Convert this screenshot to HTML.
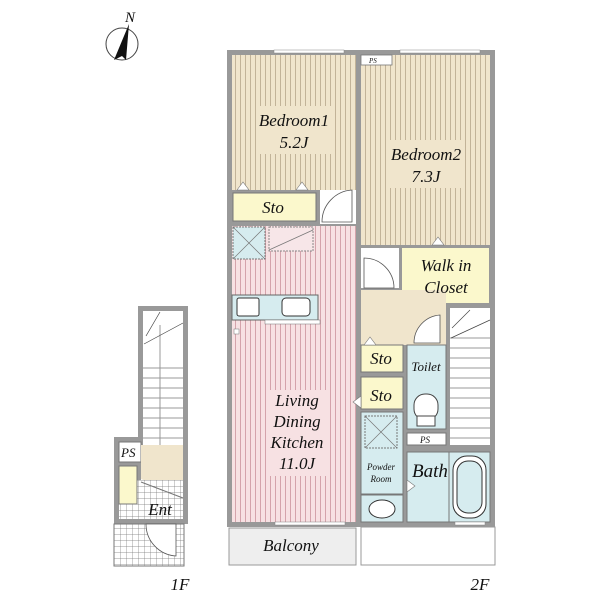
<!DOCTYPE html>
<html><head><style>body{margin:0;background:#fff}svg{display:block}text{font-family:"Liberation Serif",serif;font-style:italic;fill:#111}</style></head><body>
<svg width="600" height="600" viewBox="0 0 600 600" xmlns="http://www.w3.org/2000/svg">
<defs>
<pattern id="bs" width="5" height="10" patternUnits="userSpaceOnUse"><rect width="5" height="10" fill="#f0e5cc"/><rect x="0" width="1" height="10" fill="#c2b398"/></pattern>
<pattern id="ps" width="5" height="10" patternUnits="userSpaceOnUse"><rect width="5" height="10" fill="#f7e1e3"/><rect x="0" width="1" height="10" fill="#d4a3ab"/></pattern>
<pattern id="grid" width="6" height="6" patternUnits="userSpaceOnUse"><rect width="6" height="6" fill="#fff"/><path d="M0 0H6M0 0V6" stroke="#777" stroke-width="0.7"/></pattern>
</defs>
<circle cx="122" cy="44" r="16" fill="#fff" stroke="#444" stroke-width="1"/>
<polygon points="129,24 114,60 122,56 126,60" fill="#111"/>
<text x="125" y="22" font-size="15">N</text>
<rect x="227" y="50" width="268" height="477" fill="#999"/>
<rect x="232" y="55" width="124" height="135" fill="url(#bs)"/>
<rect x="258" y="106" width="76" height="48" fill="#f0e5cc"/>
<rect x="233" y="193" width="83" height="28" fill="#fbf8cc" stroke="#777"/>
<rect x="320" y="190" width="36" height="34" fill="#fff"/>
<path d="M352 190 A32 32 0 0 0 322 222 L352 222 Z" fill="#fff" stroke="#555" stroke-width="0.8"/>
<rect x="361" y="55" width="129" height="190" fill="url(#bs)"/>
<rect x="388" y="140" width="76" height="48" fill="#f0e5cc"/>
<rect x="361" y="55" width="31" height="10" fill="#fff" stroke="#777" stroke-width="0.8"/>
<text x="369" y="63" font-size="7">PS</text>
<rect x="402" y="248" width="87" height="55" fill="#fbf8cc"/>
<rect x="361" y="248" width="38" height="40" fill="#fff"/>
<path d="M364 258 A30 30 0 0 1 394 288 L364 288 Z" fill="#fff" stroke="#555" stroke-width="0.8"/>
<rect x="232" y="226" width="124" height="296" fill="url(#ps)"/>
<rect x="268" y="390" width="58" height="86" fill="#f7e1e3"/>
<rect x="233" y="227" width="32" height="32" fill="#d6ecef" stroke="#777" stroke-dasharray="2,1"/>
<path d="M233 227L265 259M265 227L233 259" stroke="#777" stroke-width="0.7"/>
<rect x="269" y="227" width="44" height="24" fill="#f7e6e8" stroke="#888" stroke-dasharray="2,1"/>
<path d="M269 250L313 230" stroke="#777" stroke-width="0.7"/>
<rect x="232" y="295" width="86" height="25" fill="#d6ecef" stroke="#666"/>
<rect x="237" y="298" width="22" height="18" rx="2" fill="#fff" stroke="#333"/>
<rect x="282" y="298" width="28" height="18" rx="4" fill="#fff" stroke="#333"/>
<rect x="265" y="320" width="55" height="4" fill="#fff" stroke="#777" stroke-width="0.5"/>
<rect x="234" y="329" width="5" height="5" fill="#fff" stroke="#777" stroke-width="0.5"/>
<rect x="361" y="290" width="85" height="55" fill="#f0e5cc"/>
<rect x="402" y="306" width="44" height="38" fill="#f0e5cc"/>
<path d="M440 315 A28 28 0 0 0 414 343 L440 343 Z" fill="#fff" stroke="#555" stroke-width="0.8"/>
<rect x="361" y="345" width="42" height="27" fill="#fbf8cc" stroke="#777"/>
<rect x="361" y="377" width="42" height="32" fill="#fbf8cc" stroke="#777"/>
<rect x="407" y="345" width="39" height="84" fill="#d6ecef" stroke="#777"/>
<rect x="414" y="394" width="24" height="26" rx="11" fill="#fff" stroke="#444"/>
<rect x="417" y="416" width="18" height="10" fill="#fff" stroke="#444"/>
<rect x="407" y="433" width="39" height="12" fill="#fff" stroke="#777"/>
<text x="420" y="443" font-size="9">PS</text>
<rect x="450" y="308" width="40" height="137" fill="#fff"/>
<g stroke="#999" stroke-width="1"><path d="M450 338H490M450 348H490M450 358H490M450 368H490M450 378H490M450 388H490M450 398H490M450 408H490M450 418H490M450 428H490M450 438H490"/></g>
<path d="M451 338L490 320M452 328L470 310" stroke="#444" stroke-width="0.7"/>
<rect x="361" y="412" width="42" height="82" fill="#d6ecef" stroke="#777"/>
<rect x="365" y="416" width="32" height="32" fill="#d6ecef" stroke="#777" stroke-dasharray="2,1"/>
<path d="M365 416L397 448M397 416L365 448" stroke="#777" stroke-width="0.7"/>
<rect x="361" y="495" width="42" height="27" fill="#d6ecef" stroke="#777"/>
<ellipse cx="382" cy="509" rx="13" ry="9" fill="#fff" stroke="#333"/>
<rect x="407" y="452" width="83" height="70" fill="#d6ecef" stroke="#777"/>
<rect x="449" y="452" width="41" height="70" fill="#d6ecef" stroke="#777"/>
<rect x="453" y="456" width="33" height="62" rx="14" fill="#fff" stroke="#333"/>
<rect x="457" y="461" width="25" height="52" rx="11" fill="#d6ecef" stroke="#333"/>
<g fill="#fff" stroke="#888" stroke-width="0.5"><rect x="274" y="50" width="70" height="3"/><rect x="400" y="50" width="80" height="3"/><rect x="275" y="522" width="70" height="3"/><rect x="455" y="522" width="30" height="3"/></g>
<g fill="#fff" stroke="#777" stroke-width="0.6"><path d="M237 190L243 182L249 190Z"/><path d="M296 190L302 182L308 190Z"/><path d="M432 245L438 237L444 245Z"/><path d="M364 345L370 337L376 345Z"/><path d="M361 396L353 402L361 408Z"/><path d="M407 480L415 486L407 492Z"/></g>
<rect x="229" y="528" width="127" height="37" fill="#eee" stroke="#999"/>
<rect x="361" y="527" width="134" height="38" fill="#fff" stroke="#999"/>
<rect x="138" y="306" width="50" height="218" fill="#999"/>
<rect x="114" y="437" width="30" height="87" fill="#999"/>
<rect x="143" y="311" width="40" height="134" fill="#fff"/>
<g stroke="#999"><path d="M143 368H183M143 378H183M143 388H183M143 398H183M143 408H183M143 418H183M143 428H183M143 438H183M160 325V445"/></g>
<path d="M144 344L183 323M146 336L160 312" stroke="#444" stroke-width="0.7"/>
<rect x="119" y="442" width="22" height="20" fill="#fff" stroke="#777"/>
<text x="121" y="457" font-size="13">PS</text>
<rect x="141" y="445" width="42" height="55" fill="#f0e5cc"/>
<rect x="119" y="480" width="64" height="39" fill="url(#grid)"/>
<path d="M141 479L183 496L183 500L141 484Z" fill="url(#grid)"/>
<path d="M141 482L183 498" stroke="#777"/>
<rect x="119" y="466" width="18" height="38" fill="#fbf8cc" stroke="#777"/>
<rect x="114" y="524" width="70" height="42" fill="url(#grid)" stroke="#777"/>
<path d="M146 524 A32 32 0 0 0 176 556 L176 524 Z" fill="#fff" stroke="#555" stroke-width="0.8"/>
<g font-size="17" text-anchor="middle">
<text x="294" y="126">Bedroom1</text><text x="294" y="148">5.2J</text>
<text x="426" y="160">Bedroom2</text><text x="426" y="182">7.3J</text>
<text x="273" y="213">Sto</text>
<text x="446" y="271">Walk in</text><text x="446" y="293">Closet</text>
<text x="381" y="364">Sto</text><text x="381" y="401">Sto</text>
<text x="297" y="406">Living</text><text x="297" y="427">Dining</text><text x="297" y="448">Kitchen</text><text x="297" y="469">11.0J</text>
<text x="291" y="551">Balcony</text>
<text x="430" y="477" font-size="19">Bath</text>
<text x="160" y="515">Ent</text>
<text x="180" y="590">1F</text><text x="480" y="590">2F</text>
</g>
<g font-size="13" text-anchor="middle"><text x="426" y="371">Toilet</text></g>
<g font-size="9" text-anchor="middle"><text x="381" y="470">Powder</text><text x="381" y="482">Room</text></g>
</svg>
</body></html>
